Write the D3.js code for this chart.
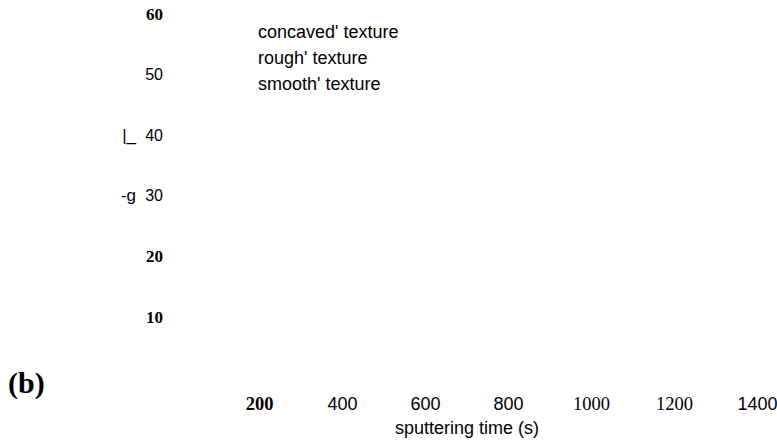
<!DOCTYPE html>
<html>
<head>
<meta charset="utf-8">
<script src="https://cdn.jsdelivr.net/npm/d3@7"></script>
<style>
  body { margin: 0; background: #fff; }
  svg { display: block; }
  text { fill: #000; }
</style>
</head>
<body>
<div id="chart"></div>
<script>
// values
const yTicks = [10, 20, 30, 40, 50, 60];
const xTicks = [200, 400, 600, 800, 1000, 1200, 1400];
const legendLabels = ["concaved' texture", "rough' texture", "smooth' texture"];
const yTitleBits = ['|_', '-g'];
const xTitle = 'sputtering time (s)';
const panelLabel = '(b)';

let width = 777;
let height = 441;

const sans = '"Liberation Sans", Arial, sans-serif';
const serif = '"Liberation Serif", "Times New Roman", serif';

// the figure mixes fonts tick by tick
const boldSerifTicks = [60, 20, 10, 200];
const plainSerifTicks = [1000, 1200];

function tickFont(sel, sansSize, serifSize) {
    sel.each(function (d) {
        let t = d3.select(this);
        if (boldSerifTicks.includes(d)) {
            t.style('font-family', serif).style('font-weight', 'bold').style('font-size', serifSize + 'px');
        } else if (plainSerifTicks.includes(d)) {
            t.style('font-family', serif).style('font-weight', 'normal').style('font-size', serifSize + 'px');
        } else {
            t.style('font-family', sans).style('font-weight', 'normal').style('font-size', sansSize + 'px');
        }
    });
}

let svg = d3.select('#chart')
    .append('svg')
    .attr('width', width)
    .attr('height', height);

let yScale = d3.scaleLinear()
    .domain([10, 60])
    .range([317, 14]);

let xScale = d3.scaleLinear()
    .domain([200, 1400])
    .range([259, 757]);

let yAxis = d3.axisLeft(yScale)
    .tickValues(yTicks)
    .tickSize(0)
    .tickPadding(0)
    .tickFormat(d3.format('d'));

let yAxisGroup = svg.append('g')
    .attr('transform', `translate(${163},${0})`)
    .call(yAxis);
yAxisGroup.select('.domain').remove();
yAxisGroup.selectAll('text').call(tickFont, 16, 17);

let xAxis = d3.axisBottom(xScale)
    .tickValues(xTicks)
    .tickSize(0)
    .tickPadding(0)
    .tickFormat(d3.format('d'));

let xAxisGroup = svg.append('g')
    .attr('transform', `translate(${0},${397})`)
    .call(xAxis);
xAxisGroup.select('.domain').remove();
xAxisGroup.selectAll('text').call(tickFont, 18, 18.5);

// axis titles (the y title only survives as fragments)
svg.append('text')
    .attr('x', 467)
    .attr('y', 434)
    .attr('text-anchor', 'middle')
    .style('font-family', sans)
    .style('font-size', '18px')
    .text(xTitle);

svg.selectAll('.ytitle')
    .data(yTitleBits)
    .enter()
    .append('text')
    .classed('ytitle', true)
    .attr('x', 136)
    .attr('y', (d, i) => yScale(40 - i * 10))
    .attr('dy', '0.32em')
    .attr('text-anchor', 'end')
    .style('font-family', sans)
    .style('font-size', '17px')
    .text(d => d);

// legend, text only
svg.append('g')
    .classed('legend', true)
    .selectAll('text')
    .data(legendLabels)
    .enter()
    .append('text')
    .attr('x', 258)
    .attr('y', (d, i) => 38 + i * 26)
    .style('font-family', sans)
    .style('font-size', '18px')
    .text(d => d);

svg.append('text')
    .attr('x', 8)
    .attr('y', 393)
    .style('font-family', serif)
    .style('font-weight', 'bold')
    .style('font-size', '30px')
    .text(panelLabel);
</script>
</body>
</html>
